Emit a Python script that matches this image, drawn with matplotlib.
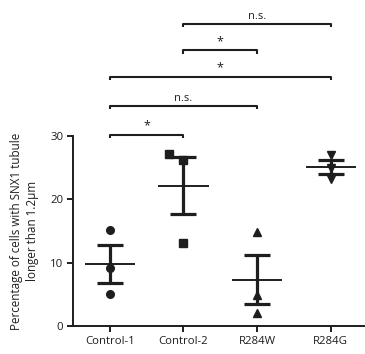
import numpy as np
import matplotlib
matplotlib.use("Agg")
import matplotlib.pyplot as plt

plt.rcParams['font.family'] = ['Open Sans', 'DejaVu Sans']

groups = ['Control-1', 'Control-2', 'R284W', 'R284G']
markers = ['o', 's', '^', 'v']
values = [
    [15.2, 9.1, 5.05],
    [27.1, 26.2, 13.1],
    [14.9, 4.9, 2.1],
    [27.0, 25.0, 23.2],
]
comparisons = [(0, 1), (0, 2), (0, 3), (1, 2), (1, 3)]
comp_labels = ['*', 'n.s.', '*', '*', 'n.s.']

col = '#1e1e1e'
fig = plt.figure(figsize=(3.65, 3.54), dpi=100)
ax = fig.add_axes([0.2, 0.079, 0.797, 0.537])

for i, vals in enumerate(values):
    vals = np.array(vals)
    # shift points that would overlap a later one
    xs = []
    for j, v in enumerate(vals):
        off = 0.0
        if any(abs(v - vals[k]) < 1.2 for k in range(j, len(vals)) if k != j):
            off = -0.2
        xs.append(i + off)
    ax.plot(xs, vals, linestyle='none', marker=markers[i], color=col,
            markersize=5.5, zorder=3)
    m = vals.mean()
    sem = vals.std(ddof=1) / np.sqrt(len(vals))
    ax.hlines(m, i - 0.34, i + 0.34, color=col, lw=1.4, zorder=2)
    ax.errorbar(i, m, yerr=sem, fmt='none', ecolor=col, elinewidth=2.3,
                capsize=9.5, capthick=2.3, zorder=2)

levels = [30.15, 34.7, 39.3, 43.5, 47.7]
for (a, b), lab, h in zip(comparisons, comp_labels, levels):
    ax.plot([a, a, b, b], [h - 0.5, h, h, h - 0.5], color=col, lw=1.5,
            clip_on=False, solid_capstyle='butt')
    if lab == '*':
        ax.text((a + b) / 2, h + 0.35, lab, ha='center', va='bottom',
                fontsize=9, color=col)
    else:
        ax.text((a + b) / 2, h + 0.3, lab, ha='center', va='bottom',
                fontsize=8, color=col)

ax.set_xlim(-0.5, 3.45)
ax.set_ylim(0, 30)
ax.set_yticks([0, 10, 20, 30])
ax.set_xticks(range(len(groups)))
ax.set_xticklabels(groups)
ax.spines['top'].set_visible(False)
ax.spines['right'].set_visible(False)
for s in ['left', 'bottom']:
    ax.spines[s].set_linewidth(1.4)
    ax.spines[s].set_color(col)
ax.tick_params(axis='both', width=1.4, length=4, color=col, labelsize=8.2,
               labelcolor=col, pad=3)
ax.set_ylabel('Percentage of cells with SNX1 tubule\nlonger than 1.2μm',
              fontsize=8.4, color=col, labelpad=8, linespacing=1.3)

fig.savefig('out.png', dpi=100)
